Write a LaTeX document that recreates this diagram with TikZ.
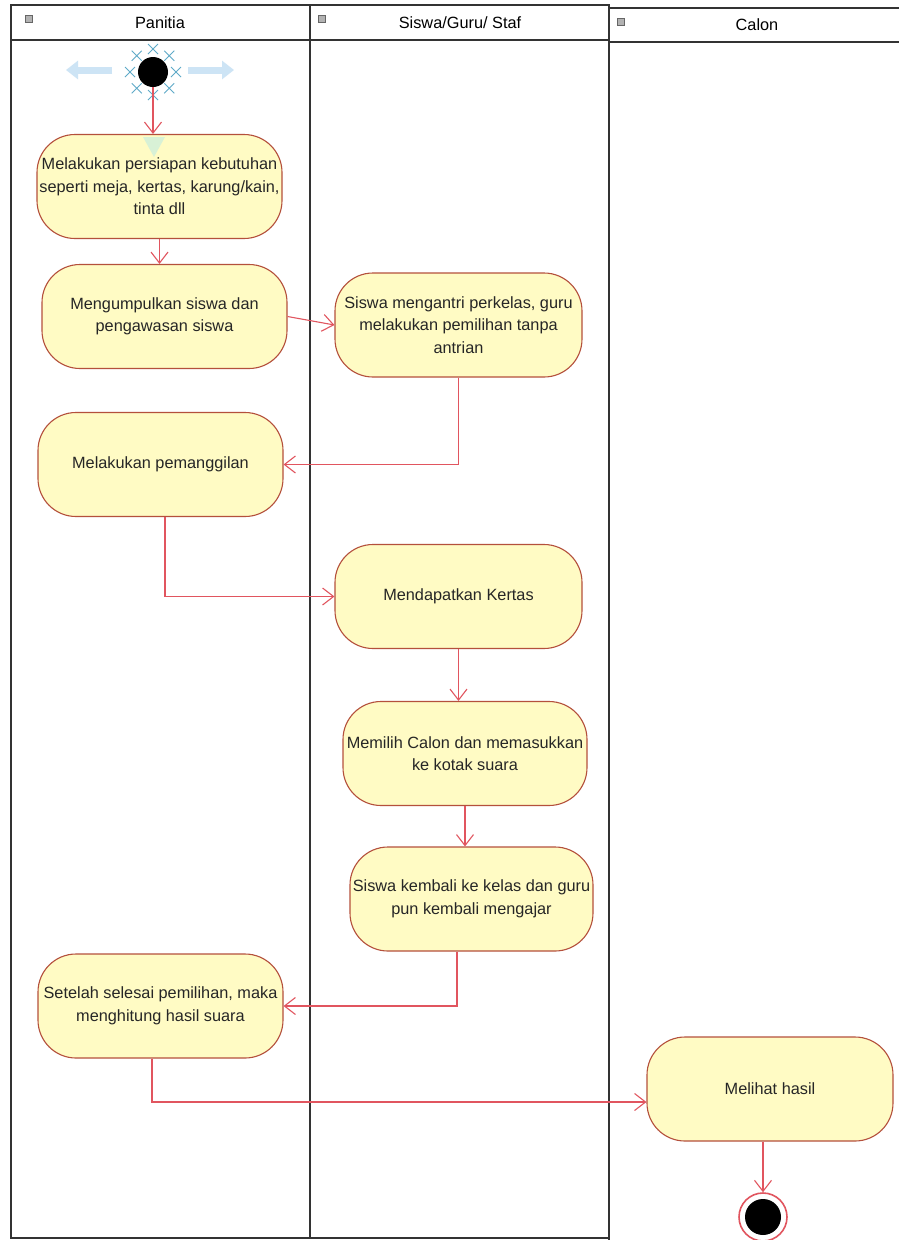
\documentclass[tikz,border=0pt]{standalone}
\usepackage{fontspec}
\setmainfont{Liberation Sans}
\usetikzlibrary{arrows.meta,calc}
\definecolor{actfill}{RGB}{255,251,196}
\definecolor{actline}{RGB}{180,80,60}
\definecolor{flowcol}{RGB}{225,85,95}
\definecolor{selcol}{RGB}{95,170,200}
\definecolor{handlecol}{RGB}{205,228,245}
\definecolor{hintcol}{RGB}{200,238,222}

\begin{document}
\begin{tikzpicture}[x=1pt,y=-1pt,
  font={\fontsize{16.3pt}{22.5pt}\selectfont},
  act/.style={draw=actline,fill=actfill,line width=1.1pt,rounded corners=38pt,align=center,
    minimum width=#1,minimum height=104pt,inner sep=0pt,text=black!85},
  act/.default=245pt,
  lane/.style={draw=black!80,line width=1.3pt},
  icon/.style={draw=black!60,fill=black!30,line width=0.5pt},
  flow/.style={draw=flowcol,line width=1.1pt,->},
  >={Straight Barb[length=11pt,width=17pt]}]
  \useasboundingbox (0,0) rectangle (899,1240);
  \clip (0,0) rectangle (899,1240);
  \fill[white] (0,0) rectangle (899,1240);
  % swimlanes
  \draw[lane] (11,5) rectangle (310,1238);
  \draw[lane] (11,40) -- (310,40);
  \draw[lane] (310,5) rectangle (609,1238);
  \draw[lane] (310,40) -- (609,40);
  \draw[lane] (609,8) rectangle (906,1250);
  \draw[lane] (609,42) -- (906,42);
  \foreach \x/\y in {25/15,318/15,617/18}
    \draw[icon] (\x,\y) rectangle ++(7,7);
  \node (hpanitia) at (160,23) {Panitia};
  \node (hsiswa) at (460,23) {Siswa/Guru/ Staf};
  \node (hcalon) at (757,25) {Calon};
  % start with its selection handles
  \draw[handlecol,line width=7pt,-{Triangle[length=12pt,width=18pt]}] (112,70) -- (66,70);
  \draw[handlecol,line width=7pt,-{Triangle[length=12pt,width=18pt]}] (188,70) -- (234,70);
  \node[circle,fill=black,minimum size=30pt,inner sep=0pt] (start) at (153,72) {};
  \foreach \a in {0,45,...,315}
    \draw[selcol,line width=1pt] ($(start)+(\a:23)$) +(-5,-5) -- +(5,5) +(-5,5) -- +(5,-5);
  % activities
  \node[act] (prep) at (159.5,186.5) {Melakukan persiapan kebutuhan\\seperti meja, kertas, karung/kain,\\tinta dll};
  \node[act] (gather) at (164.5,316.5) {Mengumpulkan siswa dan\\pengawasan siswa};
  \node[act=247pt] (queue) at (458.5,325) {Siswa mengantri perkelas, guru\\melakukan pemilihan tanpa\\antrian};
  \node[act] (call) at (160.5,464.5) {Melakukan pemanggilan};
  \node[act=247pt] (paper) at (458.5,596.5) {Mendapatkan Kertas};
  \node[act=244pt] (vote) at (465,753.5) {Memilih Calon dan memasukkan\\ke kotak suara};
  \node[act=243pt] (back) at (471.5,899) {Siswa kembali ke kelas dan guru\\pun kembali mengajar};
  \node[act] (count) at (160.5,1006) {Setelah selesai pemilihan, maka\\menghitung hasil suara};
  \node[act=246pt] (result) at (770,1089) {Melihat hasil};
  \fill[hintcol,opacity=0.7] (143,137) -- (165,137) -- (154,157) -- cycle;
  % end
  \node[circle,draw=flowcol,line width=1.6pt,fill=white,minimum size=48pt,inner sep=0pt] (stop) at (763,1217) {};
  \node[circle,fill=black,minimum size=36pt,inner sep=0pt] (stopdot) at (stop) {};
  % flows
  \draw[flow] (start) -- (start |- prep.north);
  \draw[flow] (prep.south) -- (prep.south |- gather.north);
  \draw[flow] (gather.east) -- (queue.west);
  \draw[flow] (queue.south) |- (call.east);
  \draw[flow] ([xshift=4.5pt]call.south) |- (paper.west);
  \draw[flow] (paper.south) -- (paper.south |- vote.north);
  \draw[flow] (vote.south) -- (vote.south |- back.north);
  \draw[flow] ([xshift=-14.5pt]back.south) |- (count.east);
  \draw[flow] ([xshift=-8.5pt]count.south) |- ([yshift=-13pt]result.west);
  \draw[flow] ([xshift=-7pt]result.south) -- (stop);
\end{tikzpicture}
\end{document}
